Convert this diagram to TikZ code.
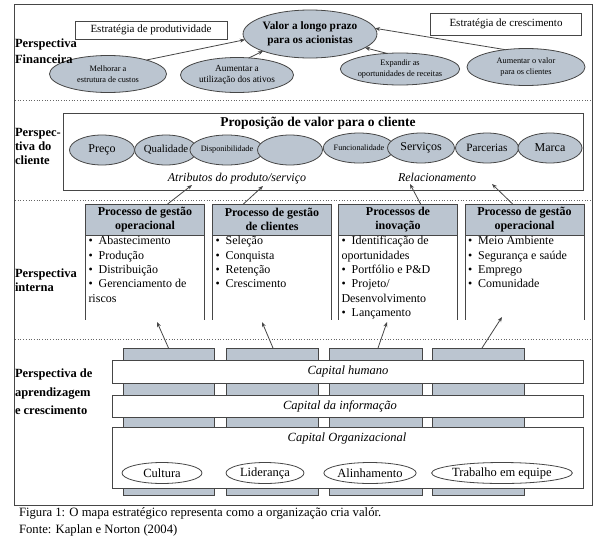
\documentclass[tikz,border=0pt]{standalone}
\usepackage{fontspec}
\setmainfont{Liberation Serif}
\usetikzlibrary{shapes.geometric,arrows.meta,calc}
\definecolor{blgray}{RGB}{187,197,208}
\definecolor{lnc}{RGB}{70,70,70}
\begin{document}
\begin{tikzpicture}[x=1pt,y=-1pt,
  every node/.style={inner sep=0pt,outer sep=0pt},
  ell/.style={ellipse,draw=lnc,fill=blgray,line width=0.8pt,align=center},
  well/.style={ellipse,draw=lnc,fill=white,line width=0.8pt,align=center,font=\fontsize{12.5}{14}\selectfont},
  wbox/.style={rectangle,draw=lnc,line width=0.8pt,fill=white},
  hdr/.style={rectangle,draw=lnc,line width=0.8pt,fill=blgray,minimum width=119pt,minimum height=31pt,align=center,font=\bfseries\fontsize{12}{13.5}\selectfont},
  body/.style={anchor=north west,align=left,font=\fontsize{12}{14.3}\selectfont},
  bar/.style={rectangle,draw=lnc,line width=0.8pt,fill=blgray,minimum height=147pt},
  arr/.style={-{Stealth[length=5pt,width=4pt]},line width=0.8pt,draw=lnc},
  sep/.style={dotted,line width=0.7pt,draw=black!60},
  plabel/.style={font=\bfseries\fontsize{12.5}{14}\selectfont,align=left,anchor=west},
  itl/.style={font=\itshape\fontsize{12}{14}\selectfont},
  citl/.style={font=\itshape\fontsize{12.5}{14}\selectfont},
]
\useasboundingbox (0,0) rectangle (610,544);
% frame and separators
\draw[lnc,line width=0.8pt] (14,4) rectangle (592,505);
\draw[sep] (15,100) -- (591,100);
\draw[sep] (15,200) -- (591,200);
\draw[sep] (15,339) -- (591,339);

% ---------- Financial ----------
\node[wbox,minimum width=152pt,minimum height=18pt,font=\fontsize{11}{12}\selectfont] (eprod) at (151,30) {Estratégia de produtividade};
\node[wbox,minimum width=151pt,minimum height=22pt,font=\fontsize{11}{12}\selectfont] (ecres) at (506,24) {Estratégia de crescimento};
\node[ell,minimum width=125pt,minimum height=48pt,font=\bfseries\fontsize{11.3}{14}\selectfont] (valor) at (310,34) {Valor a longo prazo\\para os acionistas};
\node[ell,minimum width=117pt,minimum height=37pt,font=\fontsize{8.3}{10.5}\selectfont] (melhorar) at (108,74) {Melhorar a\\estrutura de custos};
\node[ell,minimum width=113pt,minimum height=35pt,font=\fontsize{9.3}{11.5}\selectfont] (ativos) at (237,75) {Aumentar a\\utilização dos ativos};
\node[ell,minimum width=114pt,minimum height=32pt,font=\fontsize{8.3}{10.5}\selectfont] (receitas) at (400,69) {Expandir as\\oportunidades de receitas};
\node[ell,minimum width=118pt,minimum height=37pt,font=\fontsize{8.3}{10.5}\selectfont] (clientes) at (526,67) {Aumentar o valor\\para os clientes};
\node[plabel,font=\bfseries\fontsize{12.5}{16}\selectfont] (pfin) at (15,51) {Perspectiva\\Financeira};
\draw[arr] (melhorar.20) -- (valor.185);
\draw[arr] (ativos.55) -- (valor.200);
\draw[arr] (receitas.130) -- (valor.346);
\draw[arr] (clientes.140) -- (valor.5);

% ---------- Client ----------
\node[plabel] (pcli) at (15,146) {Perspec-\\tiva do\\cliente};
\node[wbox,minimum width=520pt,minimum height=77pt] (cbox) at (323,151.5) {};
\node[font=\bfseries\fontsize{13.5}{15}\selectfont] (ctitle) at (318,123) {Proposição de valor para o cliente};
\node[ell,minimum width=65pt,minimum height=30pt,font=\fontsize{12}{13}\selectfont] (preco) at (102,150) {Preço};
\node[ell,minimum width=62pt,minimum height=30pt,font=\fontsize{10.8}{13}\selectfont] (qual) at (166,150) {Qualidade};
\node[ell,minimum width=60pt,minimum height=30pt,font=\fontsize{8.2}{10}\selectfont] (disp) at (227,150) {Disponibilidade};
\node[ell,minimum width=65pt,minimum height=30pt] (blank) at (290,150) {};
\node[ell,minimum width=58pt,minimum height=30pt,font=\fontsize{8.2}{10}\selectfont] (func) at (359,148) {Funcionalidade};
\node[ell,minimum width=67pt,minimum height=30pt,font=\fontsize{12}{13}\selectfont] (serv) at (421,148) {Serviços};
\node[ell,minimum width=63pt,minimum height=30pt,font=\fontsize{11.2}{13}\selectfont] (parc) at (487,148) {Parcerias};
\node[ell,minimum width=64pt,minimum height=30pt,font=\fontsize{12}{13}\selectfont] (marca) at (550,148) {Marca};
\node[itl] (atrib) at (237,179) {Atributos do produto/serviço};
\node[itl] (relac) at (437,177) {Relacionamento};
\coordinate (a1) at (192,185);
\coordinate (a2) at (263,186);
\coordinate (a3) at (410,184);
\coordinate (a4) at (492,184);

% ---------- Internal ----------
\node[plabel] (pint) at (15,280) {Perspectiva\\interna};
\node[hdr] (h1) at (145,219.5) {Processo de gestão\\operacional};
\node[hdr] (h2) at (272,219.5) {Processo de gestão\\de clientes};
\node[hdr] (h3) at (398,219.5) {Processos de\\inovação};
\node[hdr] (h4) at (524.5,219.5) {Processo de gestão\\operacional};
\foreach \h in {h1,h2,h3,h4}{
  \draw[lnc,line width=0.8pt] (\h.south west) -- ++(0,85);
  \draw[lnc,line width=0.8pt] (\h.south east) -- ++(0,85);
}
\node[body] (l1) at ($(h1.south west)+(3,1.5)$) {\textbullet\ \ Abastecimento\\\textbullet\ \ Produção\\\textbullet\ \ Distribuição\\\textbullet\ \ Gerenciamento de\\riscos};
\node[body] (l2) at ($(h2.south west)+(3,1.5)$) {\textbullet\ \ Seleção\\\textbullet\ \ Conquista\\\textbullet\ \ Retenção\\\textbullet\ \ Crescimento};
\node[body] (l3) at ($(h3.south west)+(3,1.5)$) {\textbullet\ \ Identificação de\\oportunidades\\\textbullet\ \ Portfólio e P\&D\\\textbullet\ \ Projeto/\\Desenvolvimento\\\textbullet\ \ Lançamento};
\node[body] (l4) at ($(h4.south west)+(3,1.5)$) {\textbullet\ \ Meio Ambiente\\\textbullet\ \ Segurança e saúde\\\textbullet\ \ Emprego\\\textbullet\ \ Comunidade};
\draw[arr] ($(h1.north west)!0.69!(h1.north east)$) -- (a1);
\draw[arr] ($(h2.north west)!0.26!(h2.north east)$) -- (a2);
\draw[arr] ($(h3.north west)!0.69!(h3.north east)$) -- (a3);
\draw[arr] ($(h4.north west)!0.40!(h4.north east)$) -- (a4);
\coordinate (t1) at (157,322);
\coordinate (t2) at (262,322);
\coordinate (t3) at (387,322);
\coordinate (t4) at (502,317);

% ---------- Learning ----------
\node[plabel,font=\bfseries\fontsize{12.5}{18.3}\selectfont] (papr) at (15,392) {Perspectiva de\\aprendizagem\\e crescimento};
\node[bar,minimum width=91pt] (b1) at (168.5,421.5) {};
\node[bar,minimum width=92pt] (b2) at (272,421.5) {};
\node[bar,minimum width=93pt] (b3) at (375.5,421.5) {};
\node[bar,minimum width=92pt] (b4) at (478,421.5) {};
\node[wbox,minimum width=471pt,minimum height=23pt] (chum) at (347.5,371.5) {};
\node[citl] at (348,371.5) {Capital humano};
\node[wbox,minimum width=471pt,minimum height=22pt] (cinf) at (347.5,406) {};
\node[citl] at (340,406) {Capital da informação};
\node[wbox,minimum width=471pt,minimum height=61pt] (corg) at (347.5,457.5) {};
\node[citl] at (347,438) {Capital Organizacional};
\node[well,minimum width=80pt,minimum height=21pt] (cult) at (162,473) {Cultura};
\node[well,minimum width=78pt,minimum height=21pt] (lid) at (265,473) {Liderança};
\node[well,minimum width=83pt,minimum height=21pt] (alin) at (370,473) {Alinhamento};
\node[well,minimum width=139pt,minimum height=21pt] (trab) at (502,473) {Trabalho em equipe};
\draw[arr] (b1.north) -- (t1);
\draw[arr] ($(b2.north)+(1,0)$) -- (t2);
\draw[arr] ($(b3.north)+(2.5,0)$) -- (t3);
\draw[arr] ($(b4.north)+(4,0)$) -- (t4);

% ---------- Caption ----------
\node[anchor=west,font=\fontsize{12.7}{14}\selectfont] (cap1) at (19,513) {Figura 1: O mapa estratégico representa como a organização cria valór.};
\node[anchor=west,font=\fontsize{12.7}{14}\selectfont] (cap2) at (19,530) {Fonte: Kaplan e Norton (2004)};
\end{tikzpicture}
\end{document}
